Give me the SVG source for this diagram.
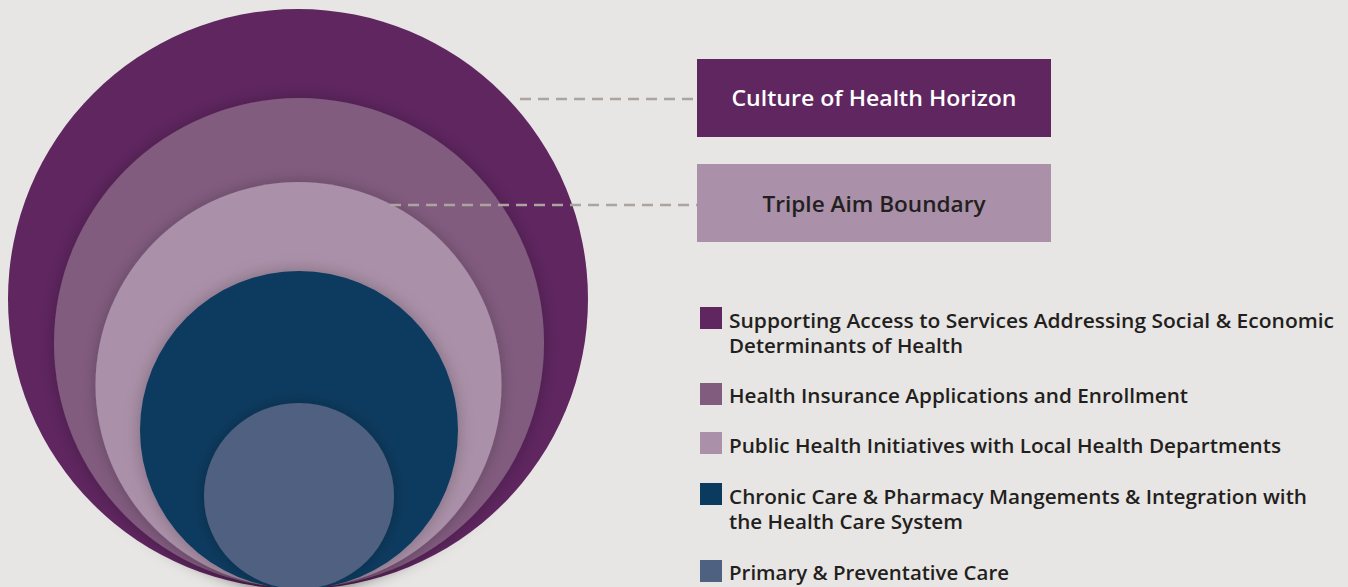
<svg xmlns="http://www.w3.org/2000/svg" width="1348" height="587" viewBox="0 0 1348 587">
<defs>
<filter id="sh" x="-20%" y="-20%" width="140%" height="140%">
<feDropShadow dx="0" dy="0" stdDeviation="8" flood-color="#000" flood-opacity="0.25"/>
</filter>
<style>
.lbl{font-family:"Open Sans",Lato,sans-serif;font-weight:600;font-size:19px;fill:#231f20}
.box{font-family:"Open Sans",Lato,sans-serif;font-weight:600;font-size:21px;text-anchor:middle}
.dash{stroke:#aca59f;stroke-width:2.5;stroke-dasharray:11 7;fill:none}
</style>
</defs>
<rect width="1348" height="587" fill="#e8e6e4"/>
<g id="circles">
<circle id="c1" cx="298" cy="299" r="290" fill="#5f2660"/>
<circle id="c2" cx="299" cy="343" r="245" fill="#825c7f" filter="url(#sh)"/>
<circle id="c3" cx="298.5" cy="385" r="203" fill="#aa90a8" filter="url(#sh)"/>
<circle id="c4" cx="299" cy="430" r="159" fill="#0a3a5e" filter="url(#sh)"/>
<ellipse id="c5" cx="299" cy="496" rx="95" ry="93" fill="#4f6180" filter="url(#sh)"/>
</g>
<g id="connectors">
<line class="dash" x1="520" y1="99" x2="697" y2="99"/>
<line class="dash" x1="390" y1="205" x2="697" y2="205"/>
</g>
<g id="culture">
<rect x="697" y="59" width="354" height="78" fill="#5f2660"/>
<text class="box" x="874" y="106" fill="#ffffff" textLength="285" lengthAdjust="spacingAndGlyphs">Culture of Health Horizon</text>
</g>
<g id="triple">
<rect x="697" y="164" width="354" height="78" fill="#aa90a8"/>
<text class="box" x="874" y="212" fill="#231f20" textLength="223" lengthAdjust="spacingAndGlyphs">Triple Aim Boundary</text>
</g>
<g id="legend">
<rect x="700" y="307" width="22" height="22" fill="#5f2660"/>
<text class="lbl" x="729" y="328" textLength="605" lengthAdjust="spacingAndGlyphs">Supporting Access to Services Addressing Social &amp; Economic</text>
<text class="lbl" x="729" y="353" textLength="234" lengthAdjust="spacingAndGlyphs">Determinants of Health</text>
<rect x="700" y="383" width="22" height="22" fill="#825c7f"/>
<text class="lbl" x="729" y="403" textLength="459" lengthAdjust="spacingAndGlyphs">Health Insurance Applications and Enrollment</text>
<rect x="700" y="432" width="22" height="22" fill="#aa90a8"/>
<text class="lbl" x="729" y="453" textLength="552" lengthAdjust="spacingAndGlyphs">Public Health Initiatives with Local Health Departments</text>
<rect x="700" y="483" width="22" height="22" fill="#0a3a5e"/>
<text class="lbl" x="729" y="504" textLength="578" lengthAdjust="spacingAndGlyphs">Chronic Care &amp; Pharmacy Mangements &amp; Integration with</text>
<text class="lbl" x="729" y="529" textLength="234" lengthAdjust="spacingAndGlyphs">the Health Care System</text>
<rect x="700" y="560" width="22" height="22" fill="#4f6180"/>
<text class="lbl" x="729" y="580" textLength="280" lengthAdjust="spacingAndGlyphs">Primary &amp; Preventative Care</text>
</g>
</svg>
